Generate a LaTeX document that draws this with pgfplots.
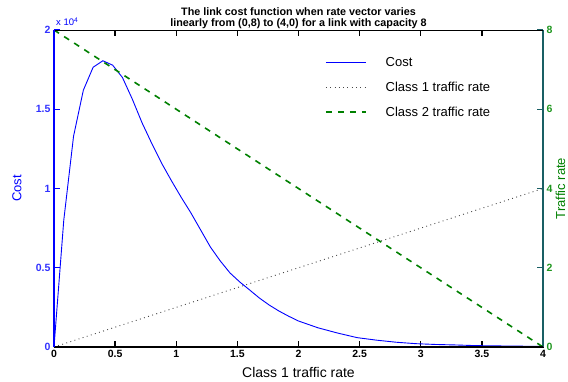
\documentclass[border=0pt]{standalone}
\usepackage{fontspec}
\setmainfont{Liberation Sans}
\usepackage{pgfplots}
\pgfplotsset{compat=1.18}
\definecolor{mblue}{RGB}{0,0,255}
\definecolor{mgreen}{RGB}{0,128,0}
\definecolor{tickblue}{RGB}{50,50,255}
\definecolor{tickgreen}{RGB}{30,150,30}
\definecolor{raxis}{RGB}{25,95,100}
\definecolor{dotgray}{RGB}{70,70,70}

\pgfplotstableread{
x y
0 0
0.08 0.80
0.16 1.33
0.24 1.62
0.32 1.765
0.40 1.806
0.48 1.778
0.56 1.700
0.64 1.565
0.72 1.415
0.80 1.284
0.88 1.160
0.96 1.050
1.04 0.945
1.12 0.846
1.20 0.738
1.28 0.630
1.36 0.543
1.44 0.467
1.52 0.410
1.60 0.360
1.68 0.309
1.76 0.265
1.84 0.227
1.92 0.194
2.00 0.164
2.16 0.121
2.32 0.088
2.48 0.059
2.64 0.043
2.80 0.030
2.96 0.021
3.12 0.016
3.28 0.013
3.44 0.009
3.60 0.007
3.76 0.006
3.92 0.004
4.00 0.004
}\costdata

\pgfplotstableread{
x y
0 0
4 4
}\classone

\pgfplotstableread{
x y
0 8
4 0
}\classtwo

\begin{document}
\begin{tikzpicture}
\useasboundingbox (-54pt,-34pt) rectangle (514pt,347pt);
\pgfplotsset{
  common/.style={
    at={(0pt,0pt)}, anchor=south west,
    scale only axis, width=489pt, height=317pt,
    xmin=0, xmax=4,
    tick align=inside, major tick length=6pt,
    /pgf/number format/assume math mode=true,
    ticklabel style={font=\bfseries\fontsize{10.5}{12}\selectfont},
    xtick={0,0.5,1,1.5,2,2.5,3,3.5,4},
  }
}
\begin{axis}[common,
  ymin=0, ymax=2, clip=false,
  axis line style={black, line width=0.7pt},
  xtick pos=both, xticklabel pos=lower,
  ytick pos=left,
  tick style={black, line width=1.3pt},
  y tick style={mblue},
  ytick={0,0.5,1,1.5,2},
  yticklabels={0,0.5,1,1.5,2},
  xticklabels={0,0.5,1,1.5,2,2.5,3,3.5,4},
  yticklabel style={tickblue},
  xticklabel style={black},
  xlabel={Class 1 traffic rate},
  xlabel style={font=\fontsize{14}{16}\selectfont, at={(axis description cs:0.5,-0.079)}, anchor=center},
  ylabel={Cost},
  ylabel style={mblue, font=\fontsize{13}{15}\selectfont, at={(axis description cs:-0.076,0.5)}, anchor=center},
]
\addplot[mblue, line width=0.9pt] table[x=x,y=y] {\costdata};
\node[anchor=south west, mblue, font=\fontsize{9.5}{10}\selectfont, inner sep=0pt] at (rel axis cs:0.004,1.012) {x 10\textsuperscript{4}};
\end{axis}
\begin{axis}[common,
  ymin=0, ymax=8,
  hide x axis,
  axis line style={raxis, line width=1.6pt},
  ytick pos=right, yticklabel pos=right,
  tick style={raxis, line width=1.3pt},
  ytick={0,2,4,6,8},
  yticklabel style={tickgreen},
  ylabel={Traffic rate},
  ylabel style={mgreen, font=\fontsize{13}{15}\selectfont, at={(axis description cs:1.036,0.5)}, anchor=center, rotate=0},
  title={The link cost function when rate vector varies\\linearly from (0,8) to (4,0) for a link with capacity 8},
  title style={font=\bfseries\fontsize{10.8}{11.5}\selectfont, align=center, at={(axis description cs:0.5,1)}, anchor=south, yshift=-8.5pt},
  legend style={draw=none, fill=none, at={(axis description cs:0.554,0.921)}, anchor=north west,
    font=\fontsize{13}{15}\selectfont, row sep=10pt, inner sep=0pt,
    /tikz/every odd column/.append style={column sep=17pt}},
  legend cell align=left,
  legend image code/.code={\draw[#1] (0pt,0pt) -- (40pt,0pt);},
  after end axis/.code={
    \draw[black, line width=1.3pt] (rel axis cs:0,0) -- (rel axis cs:1,0);
    \draw[black, line width=0.7pt] (rel axis cs:0,1) -- (rel axis cs:1,1);
    \draw[mblue, line width=1.6pt] (rel axis cs:0,0) -- (rel axis cs:0,1);
  },
]
\addlegendimage{mblue, line width=1.6pt}
\addlegendentry{Cost}
\addplot[dotgray, line width=0.9pt, dash pattern=on 0.9pt off 3.4pt] table[x=x,y=y] {\classone};
\addlegendentry{Class 1 traffic rate}
\addplot[mgreen, line width=1.6pt, dash pattern=on 6pt off 6pt] table[x=x,y=y] {\classtwo};
\addlegendentry{Class 2 traffic rate}
\end{axis}
\end{tikzpicture}
\end{document}
